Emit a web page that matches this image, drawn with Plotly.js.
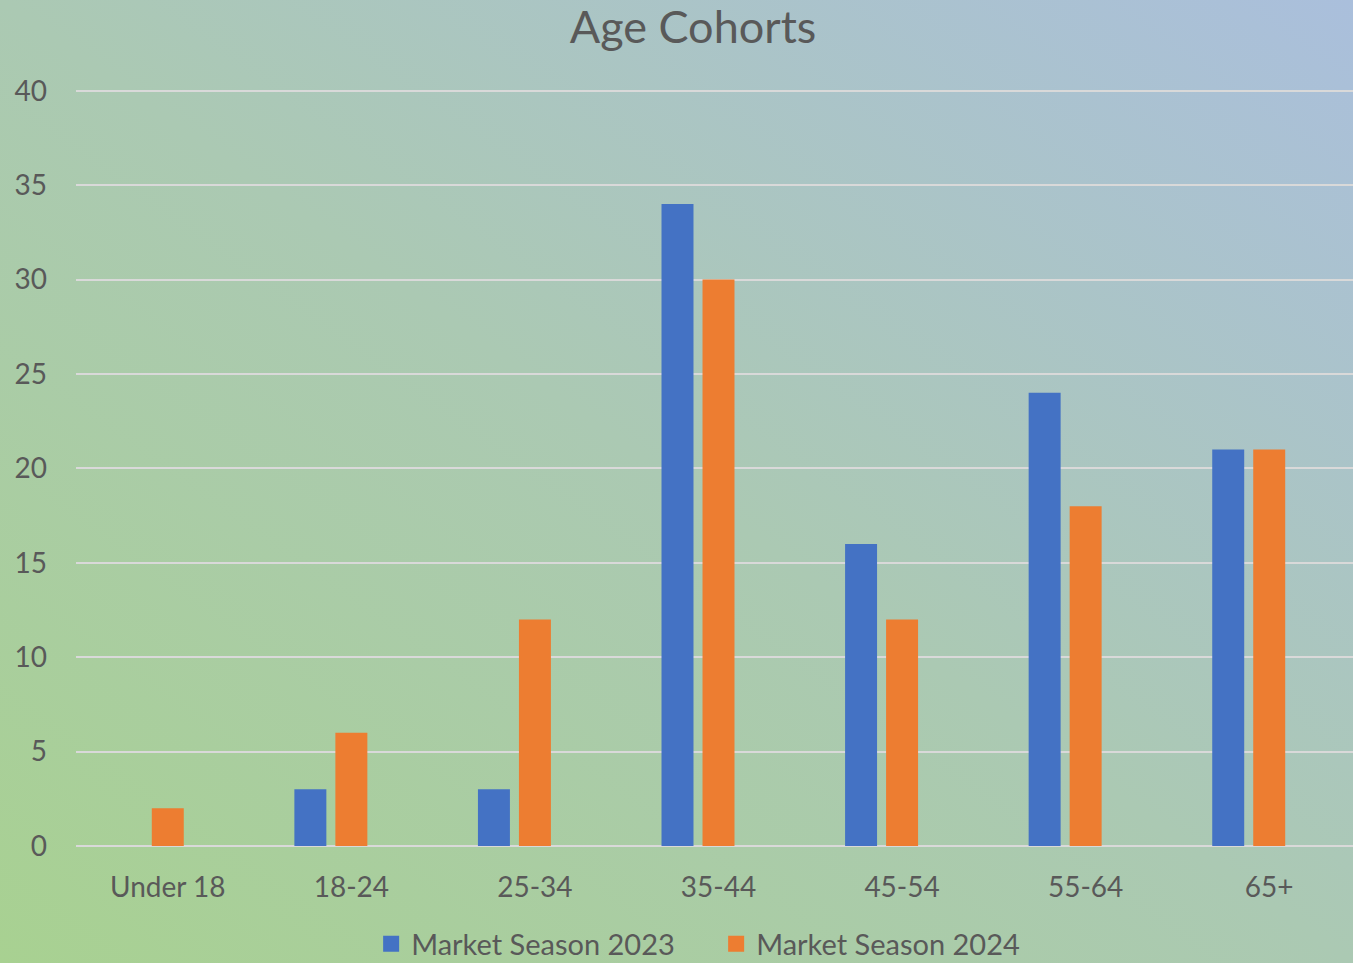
<!DOCTYPE html>
<html>
<head>
<meta charset="utf-8">
<script src="https://cdn.plot.ly/plotly-3.0.1.min.js"></script>
<style>
html, body { margin: 0; padding: 0; width: 1353px; height: 963px; overflow: hidden; }
body { background: linear-gradient(to top right, #a8d191 0%, #abc9b3 50%, #aabfdc 100%); }
#chart { width: 1361px; height: 963px; }
</style>
</head>
<body>
<div id="chart"></div>
<script>
const categories = ["Under 18", "18-24", "25-34", "35-44", "45-54", "55-64", "65+"];
const season2023 = [null, 3, 3, 34, 16, 24, 21];
const season2024 = [2, 6, 12, 30, 12, 18, 21];
const emptySeries = [null, null, null, null, null, null, null];
const seriesNames = ["Market Season 2023", "Market Season 2024"];
const yTicks = [0, 5, 10, 15, 20, 25, 30, 35, 40];

const fontFam = "Lato, 'Open Sans', sans-serif";
const textColor = "#595959";
const blue = "#4472c4", orange = "#ed7d31";

const traces = [
  { type: "bar", name: seriesNames[0], x: categories, y: season2023, marker: { color: blue }, showlegend: false },
  { type: "bar", name: seriesNames[1], x: categories, y: season2024, marker: { color: orange }, showlegend: false },
  { type: "bar", name: "", x: categories, y: emptySeries, showlegend: false, hoverinfo: "skip", marker: { color: "rgba(0,0,0,0)" } },
  // legend entries (square keys)
  { type: "scatter", mode: "markers", name: seriesNames[0], x: [null], y: [null],
    marker: { symbol: "square", size: 17, color: blue }, showlegend: true },
  { type: "scatter", mode: "markers", name: seriesNames[1], x: [null], y: [null],
    marker: { symbol: "square", size: 17, color: orange }, showlegend: true }
];

const layout = {
  width: 1361, height: 963,
  margin: { l: 76, r: 0, t: 87, b: 117, autoexpand: false },
  paper_bgcolor: "rgba(0,0,0,0)",
  plot_bgcolor: "rgba(0,0,0,0)",
  barmode: "group",
  bargap: 0.33,
  bargroupgap: 0.22,
  title: { text: "Age Cohorts", x: 693 / 1361, xanchor: "center", y: 1 - 27 / 963, yanchor: "middle",
           font: { family: fontFam, size: 45, color: textColor } },
  xaxis: { type: "category", categoryarray: categories, showgrid: false, showline: false, zeroline: false, ticks: "",
           tickfont: { family: fontFam, size: 28, color: textColor }, ticklabelstandoff: 22 },
  yaxis: { range: [0, 40.2], tickvals: yTicks, showgrid: true, gridcolor: "#d9d9d9", gridwidth: 2,
           zeroline: true, zerolinecolor: "#d9d9d9", zerolinewidth: 2, showline: false, ticks: "",
           tickfont: { family: fontFam, size: 28, color: textColor }, ticklabelstandoff: 28 },
  legend: { orientation: "h", x: 678 / 1361, xanchor: "center", yref: "container", y: (963 - 944) / 963, yanchor: "middle",
            font: { family: fontFam, size: 29, color: textColor }, itemwidth: 30, bgcolor: "rgba(0,0,0,0)",
            entrywidth: 300, itemsizing: "trace" },
  showlegend: true
};

Plotly.newPlot("chart", traces, layout, { displayModeBar: false, staticPlot: true });
</script>
</body>
</html>
